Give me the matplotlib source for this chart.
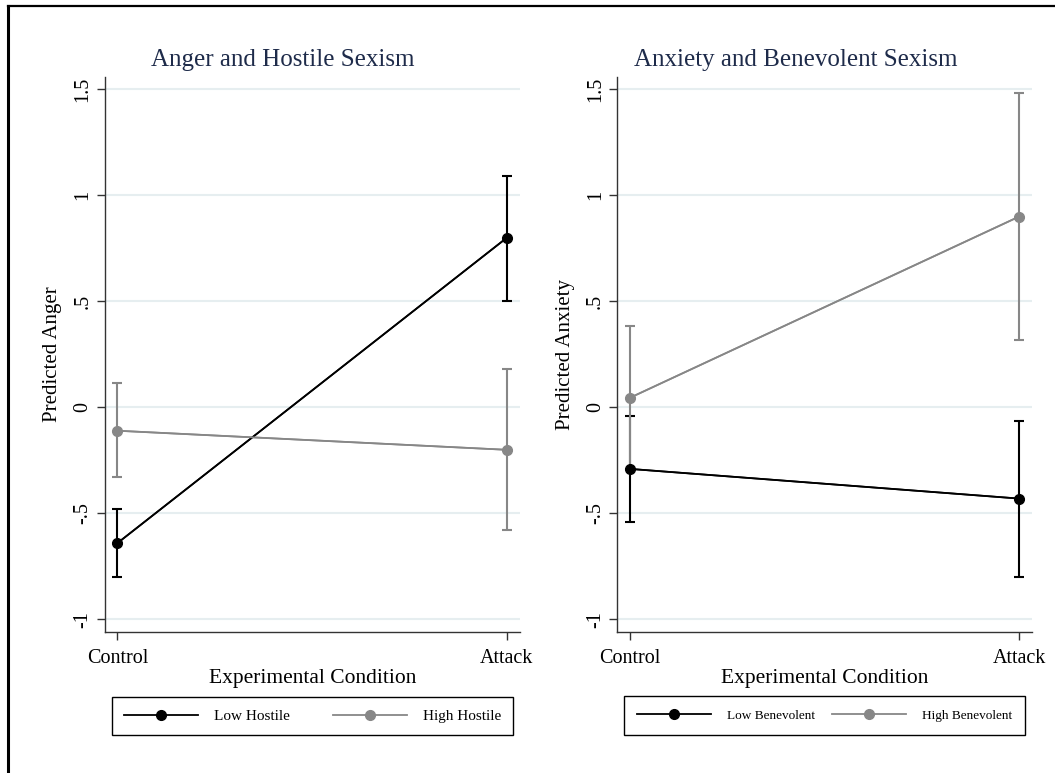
import numpy as np
import matplotlib
matplotlib.use('Agg')
import matplotlib.pyplot as plt
from matplotlib.lines import Line2D

plt.rcParams.update({
    'font.family': 'Liberation Serif',
    'font.size': 14,
})

BLACK = '#000000'; GRAY = '#878787'; NAVY = '#1e2b4a'; GRID = '#e6eef0'

# ── data ──
conditions = ['Control', 'Attack']
yticks = [-1, -0.5, 0, 0.5, 1, 1.5]
ytick_labels = ['-1', '-.5', '0', '.5', '1', '1.5']

# Anger / Hostile sexism
low_hostile = [-0.64, 0.80]
low_hostile_lo = [-0.80, 0.50]
low_hostile_hi = [-0.48, 1.09]
high_hostile = [-0.11, -0.20]
high_hostile_lo = [-0.33, -0.58]
high_hostile_hi = [0.115, 0.18]

# Anxiety / Benevolent sexism
low_benev = [-0.29, -0.43]
low_benev_lo = [-0.54, -0.80]
low_benev_hi = [-0.04, -0.065]
high_benev = [0.045, 0.90]
high_benev_lo = [-0.29, 0.32]
high_benev_hi = [0.385, 1.485]

W, H = 1055, 773
fig = plt.figure(figsize=(W / 100, H / 100), dpi=100)

# figure border (top and left only)
fig.add_artist(Line2D([8 / W, 8 / W], [0, 1 - 6 / H], color='black', lw=2.2,
                      transform=fig.transFigure))
fig.add_artist(Line2D([8 / W, 1], [1 - 6 / H, 1 - 6 / H], color='black', lw=1.6,
                      transform=fig.transFigure))


def panel(left_px, ylab_px, title, ylabel, series, leg_box, leg_size, leg_pad, colsp):
    ax = fig.add_axes([left_px / W, 1 - 631.7 / H, 415 / W, 555 / H])
    x = np.arange(len(conditions))
    handles = []
    for y, lo, hi, col, lab in series:
        y = np.array(y)
        err = [y - np.array(lo), np.array(hi) - y]
        ax.errorbar(x, y, yerr=err, color=col, lw=1.2, elinewidth=1.5,
                    capsize=3.5, capthick=1.5, zorder=3)
        h, = ax.plot(x, y, '-o', color=col, lw=1.3, markersize=7, zorder=4,
                     label=lab)
        handles.append(h)
    ax.set_xlim(-0.032, 1.034)
    ax.set_ylim(-1.058, 1.56)
    ax.set_yticks(yticks)
    ax.set_yticklabels(ytick_labels)
    ax.set_xticks(x)
    ax.set_xticklabels(conditions)
    for yt in yticks:
        ax.axhline(yt, color=GRID, lw=1.5, zorder=0)
    for s in ['top', 'right']:
        ax.spines[s].set_visible(False)
    for s in ['left', 'bottom']:
        ax.spines[s].set_color('#333333')
        ax.spines[s].set_linewidth(1.0)
    ax.tick_params(axis='both', direction='out', length=6, width=1,
                   color='#333333', labelsize=14.5)
    ax.tick_params(axis='y', labelrotation=90, pad=3)
    for t in ax.get_yticklabels():
        t.set_verticalalignment('center')
    ax.tick_params(axis='x', pad=6.5)
    ax.set_xlabel('Experimental Condition', fontsize=15.5, labelpad=1)
    ax.set_ylabel(ylabel, fontsize=15)
    ax.yaxis.set_label_coords((ylab_px - left_px) / 415, 0.5)
    ax.text(0.429, 1.03, title, transform=ax.transAxes, ha='center',
            va='center', fontsize=18, color=NAVY)
    x0, x1, y0, y1 = leg_box
    leg = fig.legend(handles=handles, loc='lower left', ncol=2, mode='expand',
                     bbox_to_anchor=(x0 / W, 1 - y1 / H, (x1 - x0) / W, (y1 - y0) / H),
                     bbox_transform=fig.transFigure, borderaxespad=0,
                     fancybox=False, edgecolor='black', framealpha=1,
                     fontsize=leg_size, handlelength=74 / (leg_size * 1.39),
                     handletextpad=16 / (leg_size * 1.39), borderpad=leg_pad,
                     columnspacing=colsp)
    leg.get_frame().set_linewidth(1.0)
    return ax


panel(105, 62, 'Anger and Hostile Sexism', 'Predicted Anger',
      [(low_hostile, low_hostile_lo, low_hostile_hi, BLACK, 'Low Hostile'),
       (high_hostile, high_hostile_lo, high_hostile_hi, GRAY, 'High Hostile')],
      (111.7, 512.7, 697.7, 735), 11, 0.78, 2.5)
panel(617.3, 575, 'Anxiety and Benevolent Sexism', 'Predicted Anxiety',
      [(low_benev, low_benev_lo, low_benev_hi, BLACK, 'Low Benevolent'),
       (high_benev, high_benev_lo, high_benev_hi, GRAY, 'High Benevolent')],
      (623.7, 1025, 697.7, 735), 9.5, 1.0, 3.2)

fig.savefig('out.png', dpi=100)
